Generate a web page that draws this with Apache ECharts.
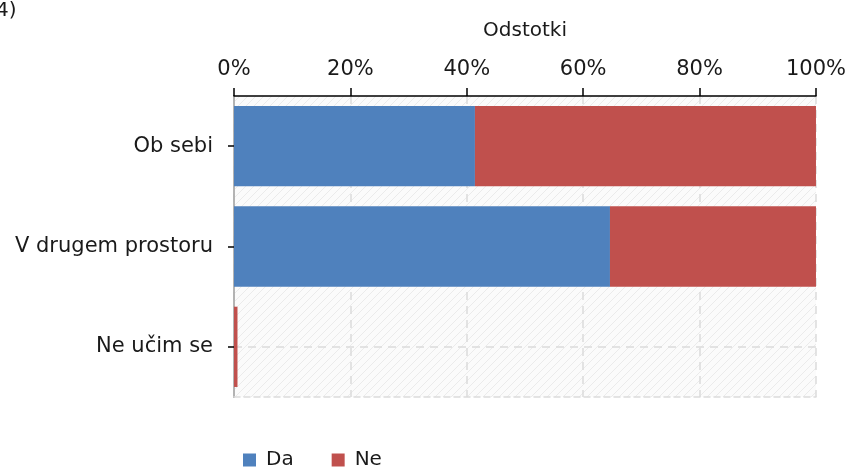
<!DOCTYPE html>
<html>
<head>
<meta charset="utf-8">
<script src="https://cdn.jsdelivr.net/npm/echarts@6/dist/echarts.min.js"></script>
<style>
	html,body{margin:0;padding:0;background:#fff;}
	#chart{width:849px;height:469px;}
</style>
</head>
<body>
<div id="chart"></div>
<script>
	var categories = ['Ob sebi', 'V drugem prostoru', 'Ne učim se'];//kategorije
	var da_values = [41.4, 64.6, 0];//Da
	var ne_values = [58.6, 35.4, 0.6];//Ne
	var x_ticks = [0, 20, 40, 60, 80, 100];

	var font = 'DejaVu Sans';

	//crtkano ozadje
	function hatch() {
		var c = document.createElement('canvas');
		c.width = 8;
		c.height = 8;
		var ctx = c.getContext('2d');
		ctx.fillStyle = '#fbfbfb';
		ctx.fillRect(0, 0, 8, 8);
		ctx.strokeStyle = '#ebebeb';
		ctx.lineWidth = 1;
		ctx.beginPath();
		ctx.moveTo(0, 8); ctx.lineTo(8, 0);
		ctx.moveTo(-4, 4); ctx.lineTo(4, -4);
		ctx.moveTo(4, 12); ctx.lineTo(12, 4);
		ctx.stroke();
		return c;
	}

	var myChart = echarts.init(document.getElementById('chart'));
	var option = {
		animation: false,
		textStyle: {fontFamily: font},
		graphic: [
			{type: 'text', left: -4, top: 1, style: {text: '4)', font: '20px "DejaVu Sans"', fill: '#1a1a1a'}}
		],
		legend: {
			data: ['Da', 'Ne'],
			left: 238,
			top: 445,
			itemWidth: 13,
			itemHeight: 13,
			itemGap: 38,
			icon: 'rect',
			textStyle: {fontFamily: font, fontSize: 20, color: '#1a1a1a', padding: [0, 0, 0, 5]}
		},
		grid: {
			left: 234,
			right: 33,
			top: 96,
			bottom: 72,
			show: true,
			borderWidth: 0,
			backgroundColor: {image: hatch(), repeat: 'repeat'}
		},
		xAxis: [
			{
				type: 'value',
				position: 'top',
				min: 0,
				max: 100,
				interval: 20,
				name: 'Odstotki',
				nameLocation: 'middle',
				nameGap: 55,
				nameTextStyle: {fontFamily: font, fontSize: 20, color: '#1a1a1a'},
				axisLine: {show: true, lineStyle: {color: '#000', width: 1.5}},
				axisTick: {show: true, length: 8, lineStyle: {color: '#000', width: 1.5}},
				axisLabel: {
					fontFamily: font, fontSize: 21, color: '#1a1a1a', margin: 16,
					formatter: function(v){ return x_ticks.indexOf(v) >= 0 ? v + '%' : ''; }
				},
				splitLine: {show: true, lineStyle: {color: '#dcdcdc', type: [8, 6], width: 1.5}}
			},
			{
				type: 'value',
				position: 'bottom',
				min: 0,
				max: 100,
				axisLine: {show: true, lineStyle: {color: '#dcdcdc', type: [6, 4], width: 1.5}},
				axisTick: {show: false},
				axisLabel: {show: false},
				splitLine: {show: false}
			}
		],
		yAxis: [
			{
				type: 'category',
				data: categories,
				inverse: true,
				axisLine: {show: true, lineStyle: {color: '#000', width: 1.5}},
				axisTick: {show: true, alignWithLabel: true, length: 6, lineStyle: {color: '#000', width: 1.5}},
				axisLabel: {fontFamily: font, fontSize: 21, color: '#1a1a1a', margin: 21},
				splitLine: {show: true, alignWithLabel: true, lineStyle: {color: '#dcdcdc', type: [8, 6], width: 1.5}}
			},
			{
				type: 'category',
				data: categories,
				inverse: true,
				position: 'right',
				axisLine: {show: true, lineStyle: {color: '#dcdcdc', width: 1.5}},
				axisTick: {show: false},
				axisLabel: {show: false},
				splitLine: {show: false}
			}
		],
		series: [
			{
				name: 'Da',
				type: 'bar',
				stack: 'skupaj',
				barWidth: '80%',
				data: da_values,
				itemStyle: {color: '#4f81bd'}
			},
			{
				name: 'Ne',
				type: 'bar',
				stack: 'skupaj',
				barWidth: '80%',
				data: ne_values,
				itemStyle: {color: '#c0504d'}
			}
		]
	};
	myChart.setOption(option);
</script>
</body>
</html>
